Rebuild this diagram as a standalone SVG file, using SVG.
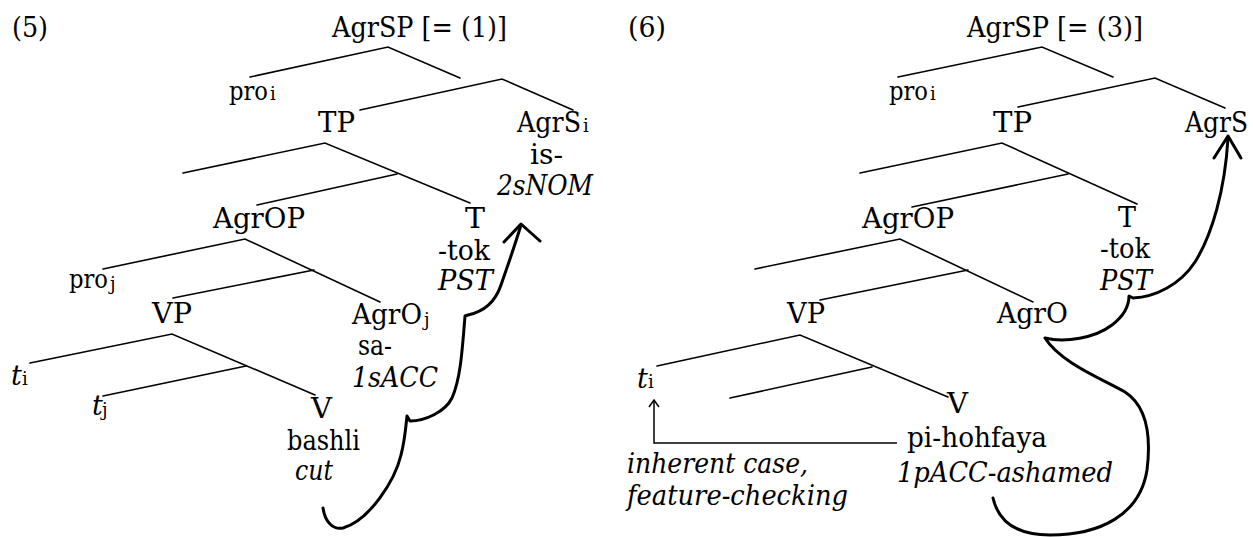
<svg xmlns="http://www.w3.org/2000/svg" width="1253" height="537" viewBox="0 0 1253 537" font-family="DejaVu Serif, Liberation Serif, serif">
<style>
text{font-size:27px;fill:#000}
.it{font-style:italic}
.sub{font-size:18px;font-style:normal}
.pro{font-size:26px}
.br{stroke:#000;stroke-width:1.6;fill:none;stroke-linecap:round}
.mv{stroke:#000;stroke-width:3;fill:none;stroke-linecap:round;stroke-linejoin:round}
.thin{stroke:#000;stroke-width:1.5;fill:none}
</style>
<rect width="1253" height="537" fill="#fff"/>
<g id="labels">
<text x="12" y="37" textLength="36" lengthAdjust="spacingAndGlyphs">(5)</text>
<text x="628" y="37" textLength="38" lengthAdjust="spacingAndGlyphs">(6)</text>
</g>
<g id="tree5">
<g id="n5-agrsp"><text x="332" y="37" textLength="175" lengthAdjust="spacingAndGlyphs">AgrSP [= (1)]</text></g>
<g id="n5-proi"><text x="229" y="100" class="pro" textLength="39" lengthAdjust="spacingAndGlyphs">pro</text><text x="270" y="100" class="sub">i</text></g>
<g id="n5-tp"><text x="318" y="132" textLength="37" lengthAdjust="spacingAndGlyphs">TP</text></g>
<g id="n5-agrs"><text x="517" y="132" textLength="64" lengthAdjust="spacingAndGlyphs">AgrS</text><text x="583" y="132" class="sub">i</text><text x="530" y="164" textLength="33" lengthAdjust="spacingAndGlyphs">is-</text><text x="497" y="195" class="it" textLength="96" lengthAdjust="spacingAndGlyphs">2sNOM</text></g>
<g id="n5-agrop"><text x="213" y="228" textLength="92" lengthAdjust="spacingAndGlyphs">AgrOP</text></g>
<g id="n5-t"><text x="465" y="228" textLength="20" lengthAdjust="spacingAndGlyphs">T</text><text x="438" y="260" textLength="52" lengthAdjust="spacingAndGlyphs">-tok</text><text x="438" y="290" class="it" textLength="55" lengthAdjust="spacingAndGlyphs">PST</text></g>
<g id="n5-proj"><text x="69" y="288" class="pro" textLength="39" lengthAdjust="spacingAndGlyphs">pro</text><text x="110" y="290" class="sub">j</text></g>
<g id="n5-vp"><text x="152" y="323" textLength="40" lengthAdjust="spacingAndGlyphs">VP</text></g>
<g id="n5-agro"><text x="352" y="324" textLength="70" lengthAdjust="spacingAndGlyphs">AgrO</text><text x="424" y="326" class="sub">j</text><text x="358" y="355" textLength="34" lengthAdjust="spacingAndGlyphs">sa-</text><text x="352" y="387" class="it" textLength="86" lengthAdjust="spacingAndGlyphs">1sACC</text></g>
<g id="n5-ti"><text x="11" y="385" class="it">t</text><text x="22" y="385" class="sub">i</text></g>
<g id="n5-tj"><text x="92" y="415" class="it">t</text><text x="102" y="416" class="sub">j</text></g>
<g id="n5-v"><text x="311" y="418" textLength="21" lengthAdjust="spacingAndGlyphs">V</text><text x="287" y="450" textLength="73" lengthAdjust="spacingAndGlyphs">bashli</text><text x="295" y="480" class="it" textLength="38" lengthAdjust="spacingAndGlyphs">cut</text></g>
</g>
<g id="tree6">
<g id="n6-agrsp"><text x="967" y="37" textLength="176" lengthAdjust="spacingAndGlyphs">AgrSP [= (3)]</text></g>
<g id="n6-proi"><text x="889" y="100" class="pro" textLength="39" lengthAdjust="spacingAndGlyphs">pro</text><text x="930" y="100" class="sub">i</text></g>
<g id="n6-tp"><text x="993" y="132" textLength="39" lengthAdjust="spacingAndGlyphs">TP</text></g>
<g id="n6-agrs"><text x="1185" y="132" textLength="63" lengthAdjust="spacingAndGlyphs">AgrS</text></g>
<g id="n6-agrop"><text x="862" y="228" textLength="92" lengthAdjust="spacingAndGlyphs">AgrOP</text></g>
<g id="n6-t"><text x="1118" y="227" textLength="18" lengthAdjust="spacingAndGlyphs">T</text><text x="1100" y="258" textLength="50" lengthAdjust="spacingAndGlyphs">-tok</text><text x="1100" y="290" class="it" textLength="52" lengthAdjust="spacingAndGlyphs">PST</text></g>
<g id="n6-vp"><text x="787" y="323" textLength="38" lengthAdjust="spacingAndGlyphs">VP</text></g>
<g id="n6-agro"><text x="997" y="323" textLength="71" lengthAdjust="spacingAndGlyphs">AgrO</text></g>
<g id="n6-ti"><text x="637" y="388" class="it">t</text><text x="648" y="388" class="sub">i</text></g>
<g id="n6-v"><text x="947" y="413" textLength="21" lengthAdjust="spacingAndGlyphs">V</text><text x="907" y="447" textLength="140" lengthAdjust="spacingAndGlyphs">pi-hohfaya</text><text x="897" y="482" class="it" textLength="216" lengthAdjust="spacingAndGlyphs">1pACC-ashamed</text></g>
<g id="n6-note"><text x="627" y="473" class="it" textLength="181" lengthAdjust="spacingAndGlyphs">inherent case,</text><text x="627" y="505" class="it" textLength="221" lengthAdjust="spacingAndGlyphs">feature-checking</text></g>
</g>
<g id="connectors">
<path class="br" d="M250,77 L388,47 L460,78"/>
<path class="br" d="M360,110 L502,79 L573,110"/>
<path class="br" d="M183,173 L325,143 L470,203"/>
<path class="br" d="M257,205 L397,174"/>
<path class="br" d="M103,269 L245,239 L380,302"/>
<path class="br" d="M173,298 L314,270"/>
<path class="br" d="M30,363 L172,334 L315,395"/>
<path class="br" d="M103,396 L246,366"/>
<path class="mv" d="M323,508 C325,522 333,530 343,528 C370,520 395,480 401,455 C405,440 406,425 407,416 L410,421 C425,421 445,412 452,398 C460,380 462,355 465,316 L468,315 C482,312 495,303 501,285 C508,265 515,245 521,225"/>
<path class="mv" d="M504,242 L521,224 L540,241"/>
<path class="br" d="M898,77 L1042,47 L1113,77"/>
<path class="br" d="M1018,107 L1155,78 L1225,108"/>
<path class="br" d="M860,173 L1002,143 L1137,204"/>
<path class="br" d="M912,207 L1068,174"/>
<path class="br" d="M755,269 L900,239 L1033,302"/>
<path class="br" d="M820,300 L968,270"/>
<path class="br" d="M657,366 L800,335 L948,397"/>
<path class="br" d="M730,398 L872,367"/>
<path class="thin" d="M897,443 L654,443 L654,401"/>
<path class="thin" d="M649,407 L654,400 L659,407"/>
<path class="mv" d="M993,498 C998,520 1015,535 1050,535 C1100,535 1140,515 1147,470 C1152,430 1145,405 1125,392 C1100,378 1060,362 1045,338 C1065,343 1095,338 1112,325 C1125,315 1129,305 1129,296 L1133,298 C1155,297 1180,285 1195,262 C1212,235 1225,190 1228,138"/>
<path class="mv" d="M1214,158 L1228,136 L1241,158"/>
</g>
</svg>
